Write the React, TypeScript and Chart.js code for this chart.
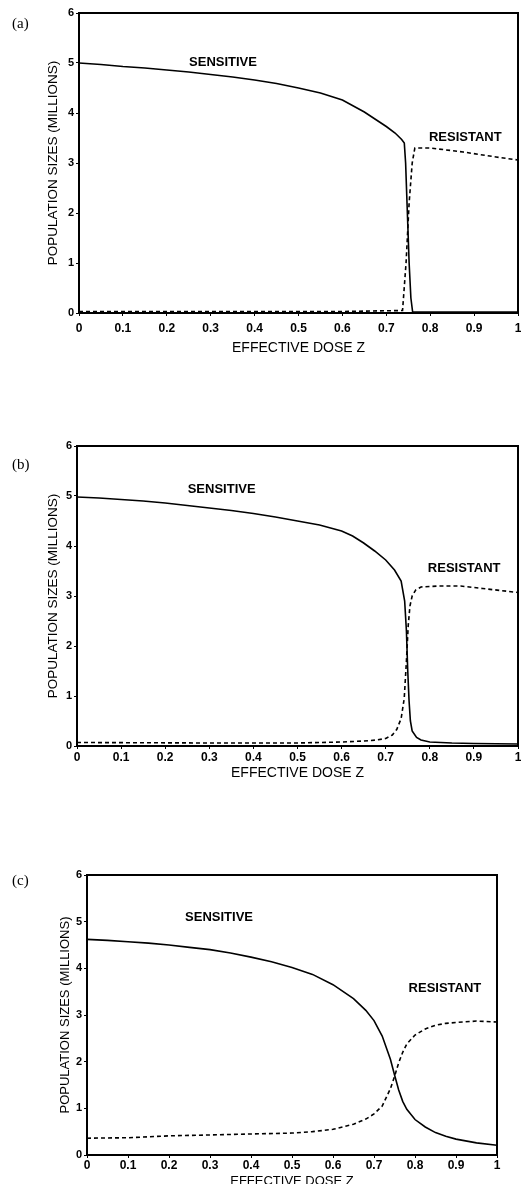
import React, { useEffect, useRef } from "react";
import { Chart, registerables } from "chart.js";

Chart.register(...registerables);

// ---------- data ----------
const xTickLabels = ["0", "0.1", "0.2", "0.3", "0.4", "0.5", "0.6", "0.7", "0.8", "0.9", "1"];
const yTickLabels = ["0", "1", "2", "3", "4", "5", "6"];

// (a)
const doseSensA = [0, 0.05, 0.1, 0.15, 0.2, 0.25, 0.3, 0.35, 0.4, 0.45, 0.5, 0.55, 0.6, 0.65, 0.7, 0.72, 0.735, 0.741, 0.744, 0.748, 0.752, 0.756, 0.76, 0.8, 0.9, 1.0];
const sensitiveA = [5.0, 4.97, 4.93, 4.9, 4.86, 4.82, 4.77, 4.72, 4.66, 4.59, 4.5, 4.4, 4.26, 4.02, 3.73, 3.6, 3.47, 3.4, 3.0, 2.0, 1.0, 0.3, 0.02, 0.02, 0.02, 0.02];
const doseResA = [0, 0.2, 0.4, 0.6, 0.737, 0.745, 0.752, 0.759, 0.765, 0.8, 0.875, 0.95, 1.0];
const resistantA = [0.03, 0.03, 0.03, 0.03, 0.05, 1.0, 2.2, 3.0, 3.3, 3.3, 3.22, 3.12, 3.06];

// (b)
const doseSensB = [0, 0.05, 0.1, 0.15, 0.2, 0.25, 0.3, 0.35, 0.4, 0.45, 0.5, 0.55, 0.6, 0.625, 0.65, 0.675, 0.7, 0.72, 0.735, 0.743, 0.747, 0.75, 0.753, 0.756, 0.76, 0.77, 0.78, 0.8, 0.85, 0.9, 1.0];
const sensitiveB = [4.98, 4.96, 4.93, 4.9, 4.86, 4.81, 4.76, 4.71, 4.65, 4.58, 4.5, 4.42, 4.3, 4.2, 4.06, 3.9, 3.72, 3.52, 3.3, 2.9, 2.3, 1.5, 0.9, 0.5, 0.3, 0.17, 0.12, 0.08, 0.06, 0.05, 0.04];
const doseResB = [0, 0.3, 0.5, 0.6, 0.65, 0.68, 0.7, 0.715, 0.725, 0.735, 0.742, 0.747, 0.751, 0.755, 0.76, 0.768, 0.78, 0.82, 0.87, 0.92, 1.0];
const resistantB = [0.07, 0.06, 0.06, 0.08, 0.1, 0.12, 0.15, 0.22, 0.33, 0.55, 0.95, 1.7, 2.4, 2.8, 3.0, 3.12, 3.18, 3.2, 3.2, 3.15, 3.07];

// (c)
const doseSensC = [0, 0.05, 0.1, 0.15, 0.2, 0.25, 0.3, 0.35, 0.4, 0.45, 0.5, 0.55, 0.6, 0.65, 0.68, 0.7, 0.72, 0.74, 0.75, 0.76, 0.77, 0.78, 0.8, 0.825, 0.85, 0.875, 0.9, 0.95, 1.0];
const sensitiveC = [4.62, 4.6, 4.57, 4.54, 4.5, 4.45, 4.4, 4.33, 4.24, 4.14, 4.02, 3.87, 3.65, 3.35, 3.1, 2.88, 2.55, 2.05, 1.72, 1.4, 1.15, 0.98, 0.76, 0.6, 0.48, 0.4, 0.34, 0.26, 0.21];
const doseResC = [0, 0.1, 0.2, 0.3, 0.4, 0.5, 0.55, 0.6, 0.65, 0.68, 0.7, 0.72, 0.74, 0.75, 0.76, 0.77, 0.78, 0.8, 0.825, 0.85, 0.875, 0.9, 0.95, 1.0];
const resistantC = [0.36, 0.37, 0.41, 0.43, 0.45, 0.47, 0.5, 0.55, 0.66, 0.77, 0.88, 1.05, 1.42, 1.68, 1.97, 2.2, 2.38, 2.57, 2.7, 2.78, 2.82, 2.84, 2.87, 2.85];

const pts = (xs: number[], ys: number[]) => xs.map((x, i) => ({ x, y: ys[i] }));

// ---------- decoration plugin ----------
const decorPlugin = {
  id: "panelDecor",
  afterDraw(chart: any, _args: any, opts: any) {
    const ctx = chart.ctx;
    const a = chart.chartArea;
    ctx.save();
    ctx.strokeStyle = "#000";
    ctx.lineWidth = 2;
    ctx.strokeRect(a.left, a.top, a.right - a.left, a.bottom - a.top);
    ctx.fillStyle = "#000";
    ctx.textBaseline = "middle";
    ctx.textAlign = "left";
    ctx.font = "15px 'Liberation Serif', serif";
    ctx.fillText(opts.label, opts.labelX, opts.labelY);
    ctx.textAlign = "center";
    ctx.font = "bold 13px 'Liberation Sans', Arial, sans-serif";
    for (const n of opts.notes || []) {
      const px = chart.scales.x.getPixelForValue(n.x);
      const py = chart.scales.y.getPixelForValue(n.y);
      ctx.fillText(n.text, px, py);
    }
    ctx.restore();
  },
};

type PanelProps = {
  top: number;
  height: number;
  sens: { x: number; y: number }[];
  res: { x: number; y: number }[];
  pad: { left: number; right: number; top: number; bottom: number };
  wy: number;
  hx: number;
  xTickPad: number;
  yTitleSize: number;
  xTitleSize: number;
  label: string;
  labelY: number;
  notes: { text: string; x: number; y: number }[];
};

const W = 540;

function Panel(p: PanelProps) {
  const ref = useRef<HTMLCanvasElement | null>(null);
  useEffect(() => {
    if (!ref.current) return;
    const black = "#000";
    const chart = new Chart(ref.current, {
      type: "line",
      data: {
        datasets: [
          {
            label: "SENSITIVE",
            data: p.sens,
            borderColor: black,
            borderWidth: 1.6,
            pointRadius: 0,
            tension: 0,
            fill: false,
          },
          {
            label: "RESISTANT",
            data: p.res,
            borderColor: black,
            borderWidth: 1.6,
            borderDash: [4, 3],
            pointRadius: 0,
            tension: 0,
            fill: false,
          },
        ],
      },
      options: {
        animation: false,
        responsive: false,
        devicePixelRatio: 1,
        layout: { padding: p.pad },
        plugins: {
          legend: { display: false },
          tooltip: { enabled: false },
          panelDecor: { label: p.label, labelX: 12, labelY: p.labelY, notes: p.notes },
        } as any,
        scales: {
          x: {
            type: "linear",
            min: 0,
            max: 1,
            afterFit: (s: any) => { s.height = p.hx; },
            ticks: {
              stepSize: 0.1,
              autoSkip: false,
              maxRotation: 0,
              padding: p.xTickPad,
              color: black,
              font: { size: 12, weight: "bold", family: "'Liberation Sans', Arial, sans-serif" },
              callback: (_v: any, i: number) => xTickLabels[i],
            },
            grid: { drawOnChartArea: false, drawTicks: true, tickLength: 3, color: black },
            border: { display: false },
            title: {
              display: true,
              text: "EFFECTIVE DOSE Z",
              color: black,
              padding: 0,
              font: { size: p.xTitleSize, family: "'Liberation Sans', Arial, sans-serif" },
            },
          },
          y: {
            type: "linear",
            min: 0,
            max: 6,
            afterFit: (s: any) => { s.width = p.wy; },
            ticks: {
              stepSize: 1,
              padding: 2,
              color: black,
              font: { size: 11, weight: "bold", family: "'Liberation Sans', Arial, sans-serif" },
              callback: (_v: any, i: number) => yTickLabels[i],
            },
            grid: { drawOnChartArea: false, drawTicks: true, tickLength: 3, color: black },
            border: { display: false },
            title: {
              display: true,
              text: "POPULATION SIZES (MILLIONS)",
              color: black,
              padding: 0,
              font: { size: p.yTitleSize, family: "'Liberation Sans', Arial, sans-serif" },
            },
          },
        },
      },
      plugins: [decorPlugin],
    } as any);
    return () => chart.destroy();
  }, []);
  return (
    <canvas
      ref={ref}
      width={W}
      height={p.height}
      style={{ position: "absolute", left: 0, top: p.top, width: W, height: p.height }}
    />
  );
}

export default function App() {
  return (
    <div
      style={{
        position: "fixed",
        left: 0,
        top: 0,
        width: 521,
        height: 1184,
        overflow: "hidden",
        background: "#fff",
      }}
    >
      <Panel
        top={0}
        height={380}
        sens={pts(doseSensA, sensitiveA)}
        res={pts(doseResA, resistantA)}
        pad={{ left: 45.4, right: W - 518, top: 13, bottom: 23.1 }}
        wy={33.6}
        hx={43.9}
        xTickPad={5.8}
        yTitleSize={13.5}
        xTitleSize={14}
        label="(a)"
        labelY={24}
        notes={[
          { text: "SENSITIVE", x: 0.328, y: 5.02 },
          { text: "RESISTANT", x: 0.88, y: 3.51 },
        ]}
      />
      <Panel
        top={390}
        height={400}
        sens={pts(doseSensB, sensitiveB)}
        res={pts(doseResB, resistantB)}
        pad={{ left: 45.4, right: W - 518, top: 56, bottom: 8.6 }}
        wy={31.6}
        hx={35.4}
        xTickPad={1.5}
        yTitleSize={13.5}
        xTitleSize={14}
        label="(b)"
        labelY={75}
        notes={[
          { text: "SENSITIVE", x: 0.328, y: 5.14 },
          { text: "RESISTANT", x: 0.878, y: 3.55 },
        ]}
      />
      <Panel
        top={800}
        height={400}
        sens={pts(doseSensC, sensitiveC)}
        res={pts(doseResC, resistantC)}
        pad={{ left: 57.2, right: W - 497, top: 75, bottom: 11.2 }}
        wy={29.8}
        hx={33.8}
        xTickPad={0}
        yTitleSize={13}
        xTitleSize={13}
        label="(c)"
        labelY={81.5}
        notes={[
          { text: "SENSITIVE", x: 0.322, y: 5.1 },
          { text: "RESISTANT", x: 0.873, y: 3.56 },
        ]}
      />
    </div>
  );
}
